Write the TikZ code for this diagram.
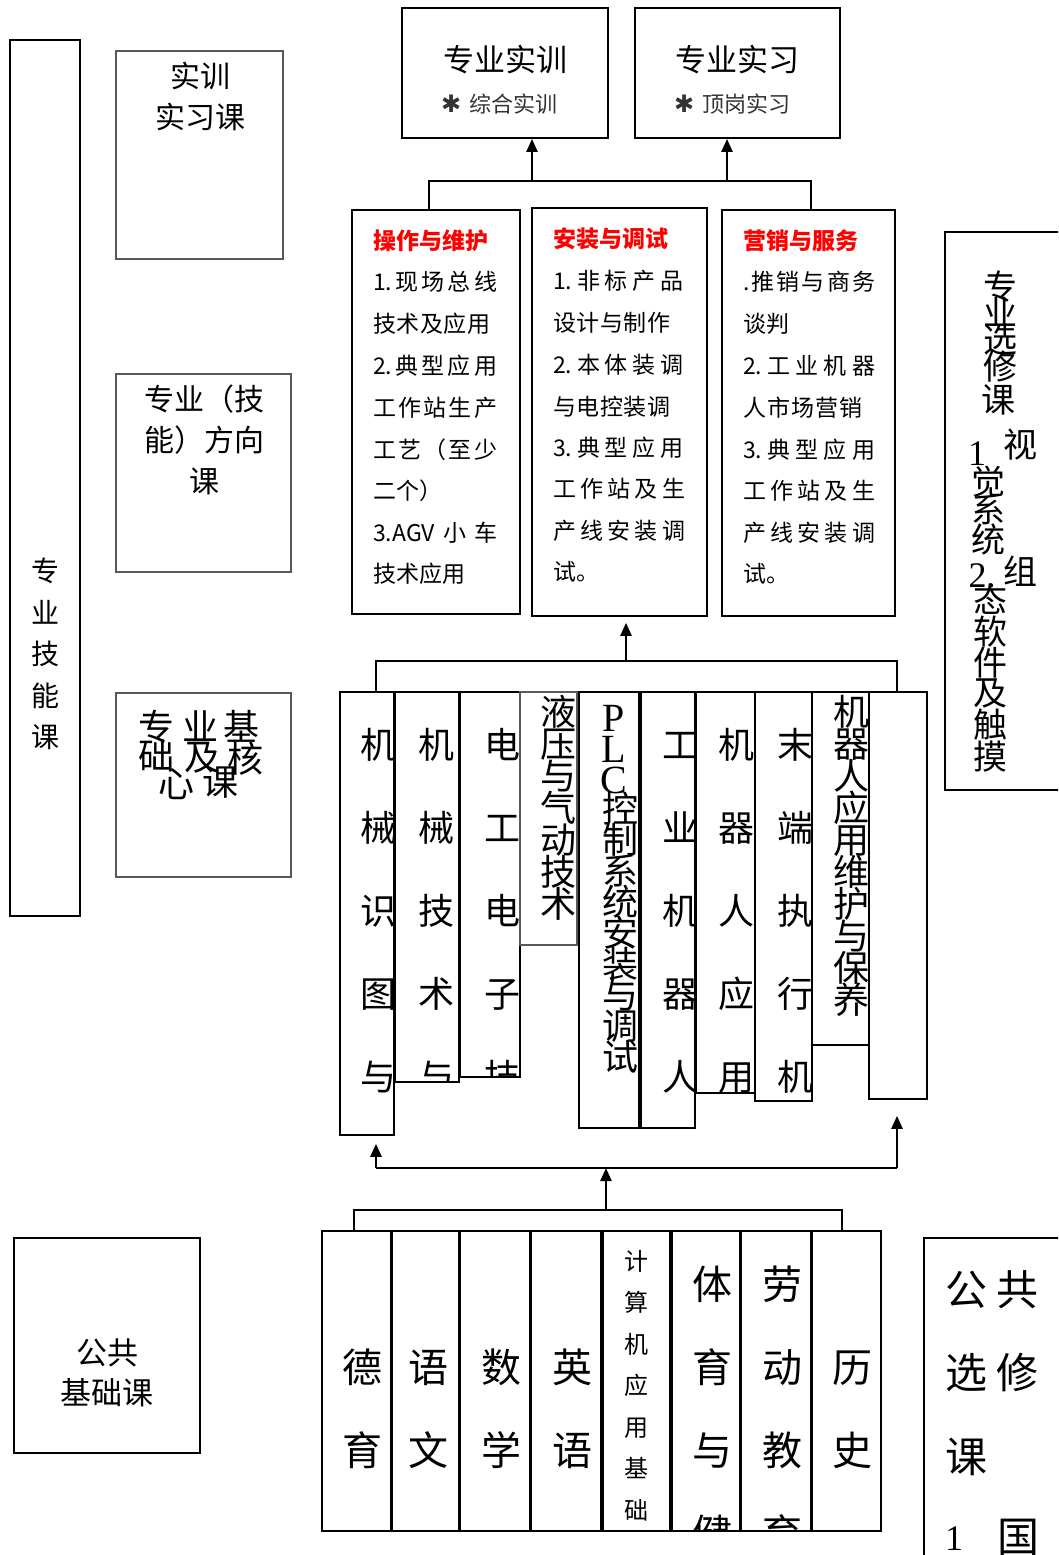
\documentclass[tikz,border=0pt]{standalone}
\usepackage{fontspec}
\setmainfont{Noto Sans CJK SC}
\newfontfamily\lserif{Liberation Serif}
\newfontfamily\dejavu{DejaVu Sans}
\usetikzlibrary{arrows.meta,fit}
\begin{document}
\begin{tikzpicture}[x=1pt,y=-1pt,
  box/.style={draw=black, line width=1.6pt, fill=white, inner sep=0pt},
  gbox/.style={box, draw=black!65, line width=1.2pt},
  T/.style={inner sep=0pt},
  fs/.style={font=\fontsize{#1pt}{#1pt}\selectfont, text height={0.88*#1pt}, text depth={0.12*#1pt}},
  ls/.style={font=\lserif\fontsize{#1pt}{#1pt}\selectfont, text height={0.88*#1pt}, text depth={0.12*#1pt}},
  head/.style={T, anchor=west, text=red, fs=23, font=\fontsize{23pt}{23pt}\selectfont\bfseries},
  body/.style={T, anchor=west, fs=23},
  conn/.style={line width=2.4pt},
  arr/.style={conn, -{Triangle[length=13pt,width=11pt]}}
]
\useasboundingbox (0,0) rectangle (1058,1555);
\clip (0,0) rectangle (1058,1555);

% ---------- left column ----------
\node[box, line width=2.2pt, fit={(10,40)(80,916)}] (skill) {};
\foreach \c [count=\i] in {专,业,技,能,课}
  \node[T,fs=28] (skc\i) at (45,{571+41.5*(\i-1)}) {\c};

\node[gbox, fit={(116,51)(283,259)}] (sx) {};
\node[T,fs=30] (sx1) at (200,76) {实训};
\node[T,fs=30] (sx2) at (200,117) {实习课};

\node[gbox, fit={(116,374)(291,572)}] (fx) {};
\node[T,fs=30] (fx1) at (204,399) {专业（技};
\node[T,fs=30] (fx2) at (204,440) {能）方向};
\node[T,fs=30] (fx3) at (204,481) {课};

\node[gbox, fit={(116,693)(291,877)}] (jc) {};
\foreach \c/\x/\y [count=\i] in {专/156/727,业/200/727,基/241/727,础/156/756,及/202/757,核/245/759,心/176/784,课/220/782}
  \node[T,fs=36] (jcc\i) at (\x,\y) {\c};

\node[box, line width=2pt, fit={(14,1238)(200,1453)}] (gj) {};
\node[T,fs=31] (gj1) at (107,1353) {公共};
\node[T,fs=31] (gj2) at (107,1393) {基础课};

% ---------- top ----------
\node[box, line width=1.8pt, fit={(402,8)(608,138)}] (tr1) {};
\node[T,fs=31] (tr1a) at (505,60) {专业实训};
\node[T,fs=22,anchor=west,text=black!80] (tr1b) at (441,104) {{\dejavu\fontsize{24pt}{24pt}\selectfont\bfseries ✱}\hspace{8pt}综合实训};
\node[box, line width=1.8pt, fit={(635,8)(840,138)}] (tr2) {};
\node[T,fs=31] (tr2a) at (737,60) {专业实习};
\node[T,fs=22,anchor=west,text=black!80] (tr2b) at (674,104) {{\dejavu\fontsize{24pt}{24pt}\selectfont\bfseries ✱}\hspace{8pt}顶岗实习};

% ---------- three direction boxes ----------
\node[box, fit={(352,210)(520,614)}] (o1) {};
\node[box, fit={(532,208)(707,616)}] (o2) {};
\node[box, fit={(722,210)(895,616)}] (o3) {};

\node[head] (o1h) at (373,241) {操作与维护};
\node[body] (o1l1) at (373,282) {\makebox[124pt]{1.\hfill 现\hfill 场\hfill 总\hfill 线}};
\node[body] (o1l2) at (373,324) {\makebox[117pt]{技\hfill 术\hfill 及\hfill 应\hfill 用}};
\node[body] (o1l3) at (373,366) {\makebox[124pt]{2.\hfill 典\hfill 型\hfill 应\hfill 用}};
\node[body] (o1l4) at (373,408) {\makebox[124pt]{工\hfill 作\hfill 站\hfill 生\hfill 产}};
\node[body] (o1l5) at (373,450) {\makebox[124pt]{工\hfill 艺\hfill （\hfill 至\hfill 少}};
\node[body] (o1l6) at (373,491) {二个）};
\node[body] (o1l7) at (373,533) {\makebox[124pt]{3.AGV\hfill 小\hfill 车}};
\node[body] (o1l8) at (373,574) {技术应用};

\node[head] (o2h) at (553,239) {安装与调试};
\node[body] (o2l1) at (553,281) {\makebox[130pt]{1.\hfill 非\hfill 标\hfill 产\hfill 品}};
\node[body] (o2l2) at (553,323) {\makebox[117pt]{设\hfill 计\hfill 与\hfill 制\hfill 作}};
\node[body] (o2l3) at (553,365) {\makebox[130pt]{2.\hfill 本\hfill 体\hfill 装\hfill 调}};
\node[body] (o2l4) at (553,407) {\makebox[117pt]{与\hfill 电\hfill 控\hfill 装\hfill 调}};
\node[body] (o2l5) at (553,448) {\makebox[130pt]{3.\hfill 典\hfill 型\hfill 应\hfill 用}};
\node[body] (o2l6) at (553,489) {\makebox[132pt]{工\hfill 作\hfill 站\hfill 及\hfill 生}};
\node[body] (o2l7) at (553,531) {\makebox[132pt]{产\hfill 线\hfill 安\hfill 装\hfill 调}};
\node[body] (o2l8) at (553,572) {试。};

\node[head] (o3h) at (743,241) {营销与服务};
\node[body] (o3l1) at (743,282) {\makebox[132pt]{.\hfill 推\hfill 销\hfill 与\hfill 商\hfill 务}};
\node[body] (o3l2) at (743,324) {谈判};
\node[body] (o3l3) at (743,366) {\makebox[132pt]{2.\hfill 工\hfill 业\hfill 机\hfill 器}};
\node[body] (o3l4) at (743,408) {\makebox[119pt]{人\hfill 市\hfill 场\hfill 营\hfill 销}};
\node[body] (o3l5) at (743,450) {\makebox[132pt]{3.\hfill 典\hfill 型\hfill 应\hfill 用}};
\node[body] (o3l6) at (743,491) {\makebox[132pt]{工\hfill 作\hfill 站\hfill 及\hfill 生}};
\node[body] (o3l7) at (743,533) {\makebox[132pt]{产\hfill 线\hfill 安\hfill 装\hfill 调}};
\node[body] (o3l8) at (743,574) {试。};

% connectors top
\coordinate (tbL) at (429,181);
\coordinate (tbR) at (811,181);
\draw[conn] (tbL |- o1.north) -- (tbL) -- (tbR) -- (tbR |- o3.north);
\coordinate (ta1) at (532,181);
\coordinate (ta2) at (727,181);
\draw[arr] (ta1) -- (ta1 |- tr1.south);
\draw[arr] (ta2) -- (ta2 |- tr2.south);

% ---------- middle row of courses ----------
\node[box, fit={(340,692)(394,1135)}] (m1) {};
\begin{scope}\clip (m1.north west) rectangle (m1.south east);
\foreach \c [count=\i] in {机,械,识,图,与} \node[T,fs=36] (m1c\i) at (378,{745+83*(\i-1)}) {\c};
\end{scope}
\node[box, fit={(395,692)(459,1082)}] (m2) {};
\begin{scope}\clip (m2.north west) rectangle (m2.south east);
\foreach \c [count=\i] in {机,械,技,术,与} \node[T,fs=36] (m2c\i) at (436,{745+83*(\i-1)}) {\c};
\end{scope}
\node[box, fit={(460,692)(520,1077)}] (m3) {};
\begin{scope}\clip (m3.north west) rectangle (m3.south east);
\foreach \c [count=\i] in {电,工,电,子,技} \node[T,fs=36] (m3c\i) at (502,{745+83*(\i-1)}) {\c};
\end{scope}
\node[gbox, fit={(520,692)(577,945)}] (m4) {};
\begin{scope}\clip (m4.north west) rectangle (m4.south east);
\foreach \c [count=\i] in {液,压,与,气,动,技,术} \node[T,fs=36] (m4c\i) at (558,{712+32*(\i-1)}) {\c};
\end{scope}
\node[box, fit={(579,692)(639,1128)}] (m5) {};
\begin{scope}\clip (m5.north west) rectangle (m5.south east);
\foreach \c [count=\i] in {P,L,C} \node[T,ls=40] (m5l\i) at (614,{716+31*(\i-1)}) {\c};
\foreach \c [count=\i] in {控,制,系,统,安,装,与,调,试} \node[T,fs=36] (m5c\i) at (620,{809+31*(\i-1)}) {\c};
\end{scope}
\node[box, fit={(641,692)(695,1128)}] (m6) {};
\begin{scope}\clip (m6.north west) rectangle (m6.south east);
\foreach \c [count=\i] in {工,业,机,器,人} \node[T,fs=36] (m6c\i) at (680,{745+83*(\i-1)}) {\c};
\end{scope}
\node[box, fit={(696,692)(755,1093)}] (m7) {};
\begin{scope}\clip (m7.north west) rectangle (m7.south east);
\foreach \c [count=\i] in {机,器,人,应,用} \node[T,fs=36] (m7c\i) at (736,{745+83*(\i-1)}) {\c};
\end{scope}
\node[box, fit={(755,692)(812,1101)}] (m8) {};
\begin{scope}\clip (m8.north west) rectangle (m8.south east);
\foreach \c [count=\i] in {末,端,执,行,机} \node[T,fs=36] (m8c\i) at (795,{745+83*(\i-1)}) {\c};
\end{scope}
\node[box, fit={(812,692)(869,1045)}] (m9) {};
\begin{scope}\clip (m9.north west) rectangle (m9.south east);
\foreach \c [count=\i] in {机,器,人,应,用,维,护,与,保,养} \node[T,fs=36] (m9c\i) at (851,{712+32*(\i-1)}) {\c};
\end{scope}
\node[box, fit={(869,692)(927,1099)}] (m10) {};

% connectors around middle row
\coordinate (mbL) at (376,661);
\coordinate (mbR) at (897,661);
\draw[conn] (mbL |- m1.north) -- (mbL) -- (mbR) -- (mbR |- m10.north);
\coordinate (ma) at (626,661);
\draw[arr, shorten >=6pt] (ma) -- (ma |- o2.south);

\coordinate (lbL) at (376,1168);
\coordinate (lbR) at (897,1168);
\draw[conn] (lbL) -- (lbR);
\draw[arr, shorten >=8pt] (lbL) -- (lbL |- m1.south);
\draw[arr, shorten >=16pt] (lbR) -- (lbR |- m10.south);

% ---------- bottom row ----------
\node[box, fit={(322,1231)(391,1531)}] (b1) {};
\foreach \c [count=\i] in {德,育} \node[T,fs=40] (b1c\i) at (362,{1367+83*(\i-1)}) {\c};
\node[box, fit={(392,1231)(459,1531)}] (b2) {};
\foreach \c [count=\i] in {语,文} \node[T,fs=40] (b2c\i) at (428,{1367+83*(\i-1)}) {\c};
\node[box, fit={(460,1231)(530,1531)}] (b3) {};
\foreach \c [count=\i] in {数,学} \node[T,fs=40] (b3c\i) at (501,{1367+83*(\i-1)}) {\c};
\node[box, fit={(531,1231)(601,1531)}] (b4) {};
\foreach \c [count=\i] in {英,语} \node[T,fs=40] (b4c\i) at (572,{1367+83*(\i-1)}) {\c};
\node[box, fit={(603,1231)(670,1531)}] (b5) {};
\foreach \c [count=\i] in {计,算,机,应,用,基,础} \node[T,fs=24] (b5c\i) at (636,{1261+41.5*(\i-1)}) {\c};
\node[box, fit={(672,1231)(740,1531)}] (b6) {};
\begin{scope}\clip (b6.north west) rectangle (b6.south east);
\foreach \c [count=\i] in {体,育,与,健} \node[T,fs=40] (b6c\i) at (712,{1284+83*(\i-1)}) {\c};
\end{scope}
\node[box, fit={(741,1231)(811,1531)}] (b7) {};
\begin{scope}\clip (b7.north west) rectangle (b7.south east);
\foreach \c [count=\i] in {劳,动,教,育} \node[T,fs=40] (b7c\i) at (782,{1284+83*(\i-1)}) {\c};
\end{scope}
\node[box, fit={(812,1231)(881,1531)}] (b8) {};
\foreach \c [count=\i] in {历,史} \node[T,fs=40] (b8c\i) at (852,{1367+83*(\i-1)}) {\c};

\coordinate (bbL) at (354,1210);
\coordinate (bbR) at (842,1210);
\draw[line width=2pt] (bbL |- b1.north) -- (bbL) -- (bbR) -- (bbR |- b8.north);
\coordinate (ba) at (606,1210);
\draw[arr] (ba) -- (ba |- lbL);

% ---------- right side ----------
\node[box, line width=1.8pt, fit={(945,232)(1075,790)}] (zx) {};
\foreach \c/\x/\y [count=\i] in {专/1000/287,业/1000/313,选/1000/340,修/1000/367,课/998/400,视/1020/445,觉/988/482,系/988/510,统/988/540,组/1020/572,态/990/600,软/990/632,件/990/663,及/990/693,触/990/725,摸/990/757}
  \node[T,fs=34] (zxc\i) at (\x,\y) {\c};
\node[T,ls=36] (zxn1) at (977,452) {1};
\node[T,ls=36] (zxn2) at (982,574) {2.};

\node[box, line width=1.8pt, fit={(924,1238)(1075,1575)}] (gx) {};
\foreach \c/\x/\y [count=\i] in {公/966/1290,共/1017/1290,选/966/1373,修/1017/1373,课/966/1457,国/1018/1537}
  \node[T,fs=42] (gxc\i) at (\x,\y) {\c};
\node[T,ls=36] (gxn1) at (954,1537) {1};
\end{tikzpicture}
\end{document}
